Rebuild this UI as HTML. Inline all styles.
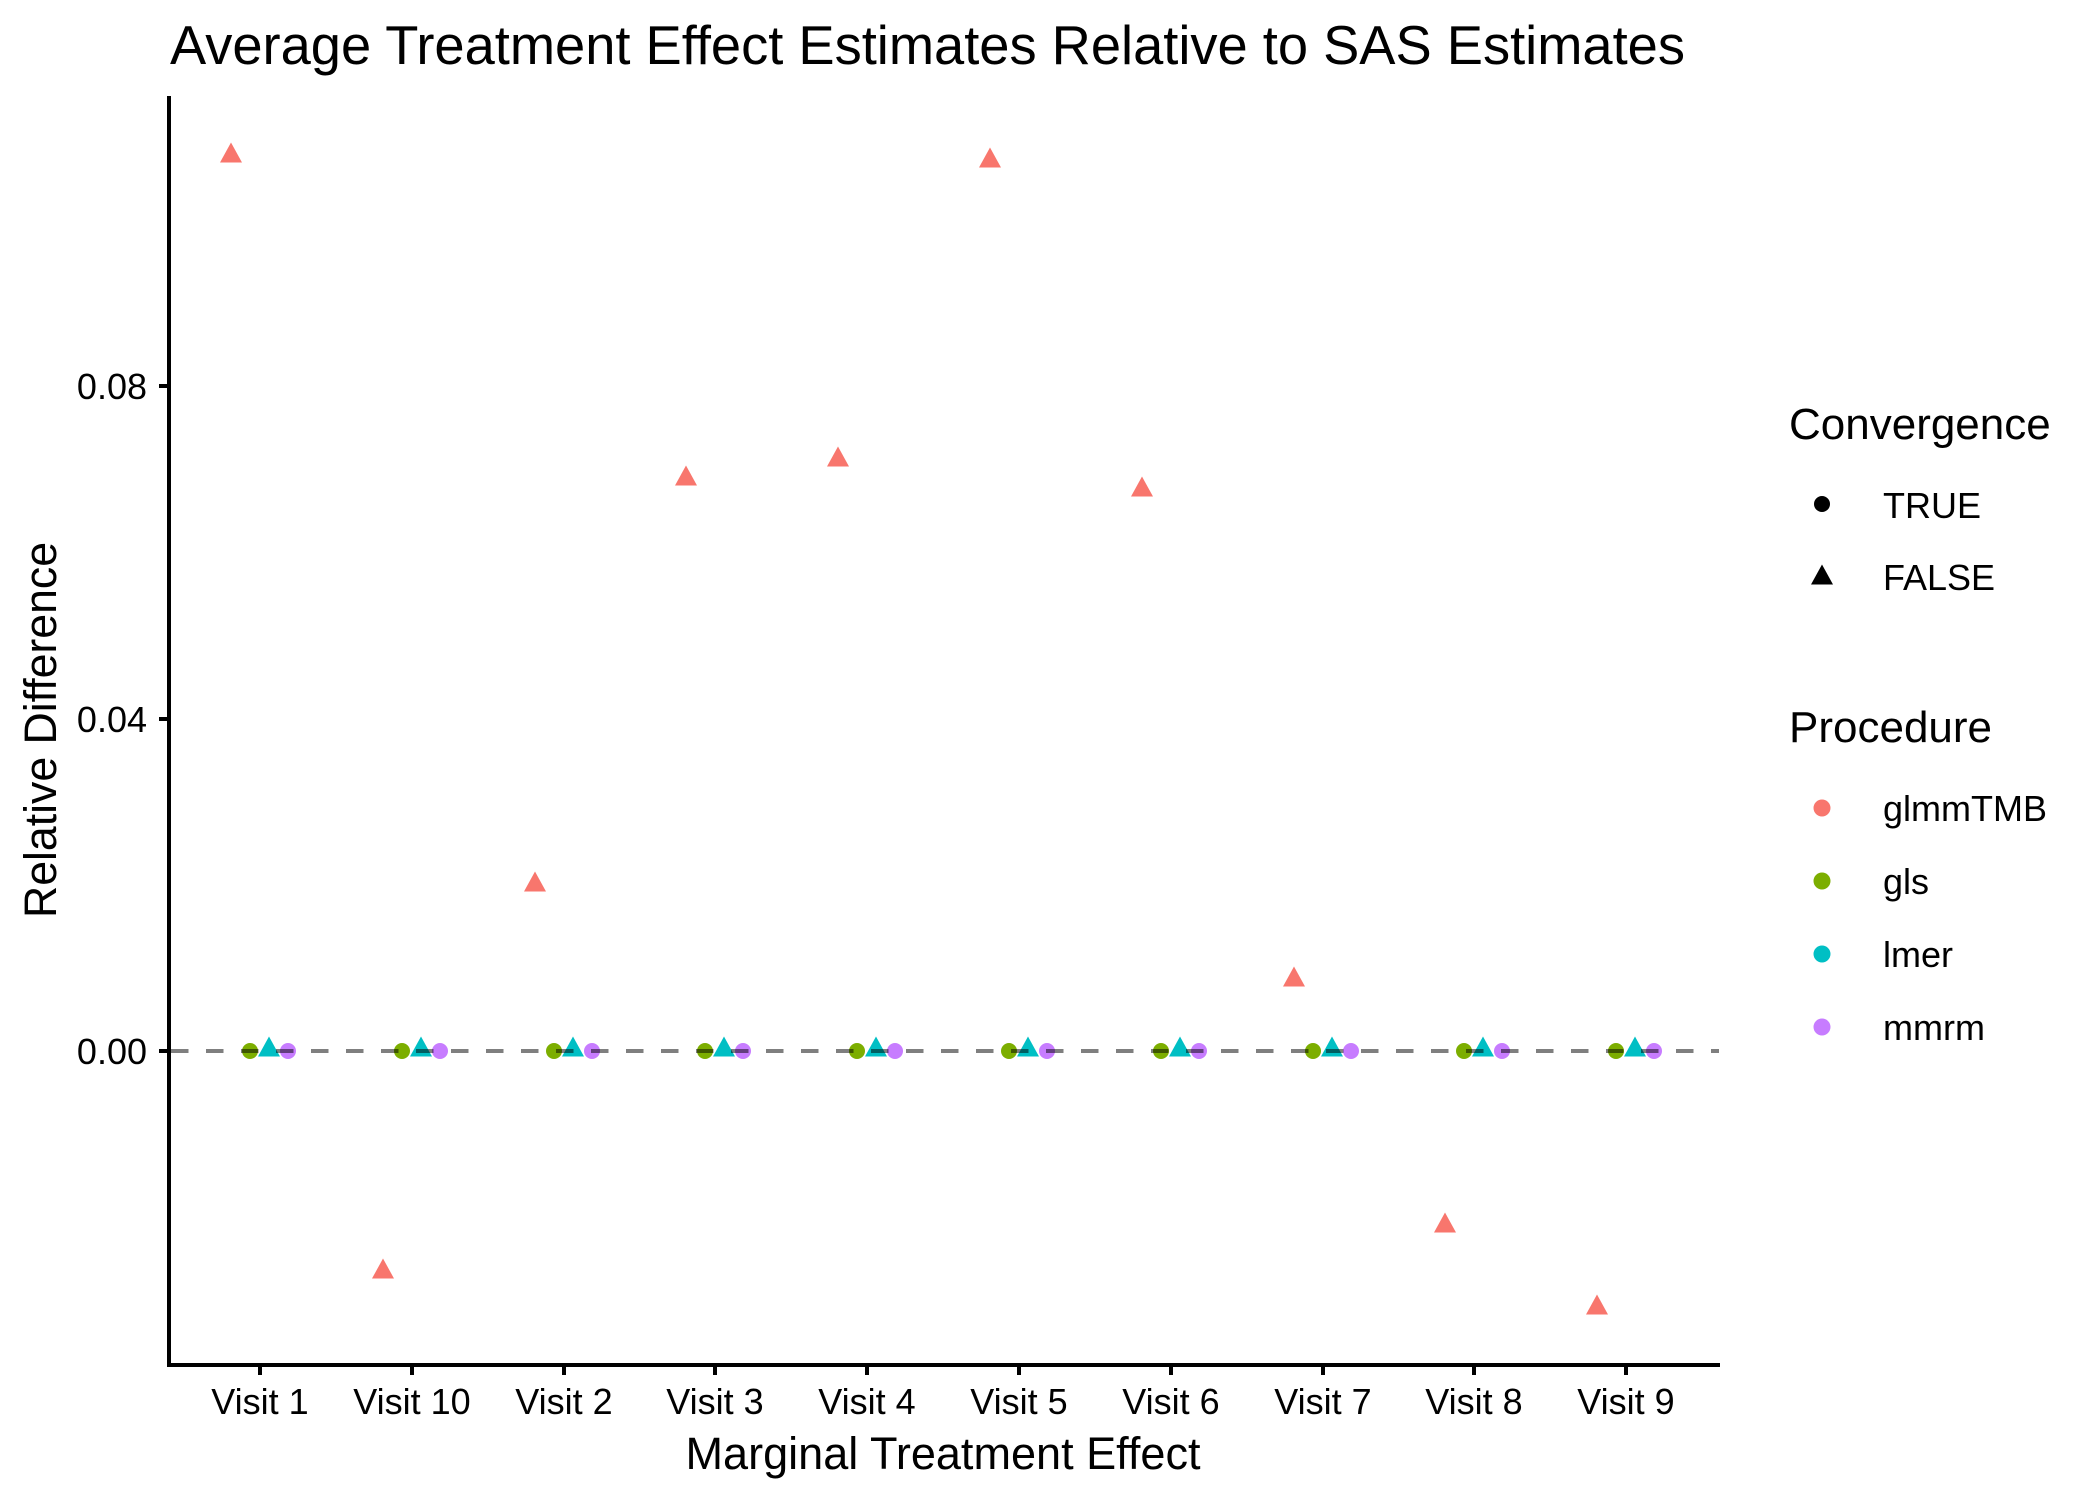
<!DOCTYPE html>
<html><head><meta charset="utf-8"><style>html,body{margin:0;padding:0;background:#fff}svg{display:block}</style></head>
<body>
<svg width="2100" height="1500" viewBox="0 0 2100 1500" xmlns="http://www.w3.org/2000/svg" font-family="Liberation Sans, Arial, sans-serif">
<rect width="2100" height="1500" fill="#fff"/>
<text x="170" y="64" font-size="55" textLength="1515" lengthAdjust="spacingAndGlyphs">Average Treatment Effect Estimates Relative to SAS Estimates</text>
<line x1="169" y1="96" x2="169" y2="1367" stroke="#000" stroke-width="4"/>
<line x1="167" y1="1365" x2="1720" y2="1365" stroke="#000" stroke-width="4"/>
<g stroke="#000" stroke-width="4">
<line x1="159" y1="386" x2="169" y2="386"/><line x1="159" y1="719" x2="169" y2="719"/><line x1="159" y1="1051" x2="169" y2="1051"/>
<line x1="260" y1="1365" x2="260" y2="1375"/><line x1="412" y1="1365" x2="412" y2="1375"/><line x1="564" y1="1365" x2="564" y2="1375"/><line x1="715" y1="1365" x2="715" y2="1375"/><line x1="867" y1="1365" x2="867" y2="1375"/><line x1="1019" y1="1365" x2="1019" y2="1375"/><line x1="1171" y1="1365" x2="1171" y2="1375"/><line x1="1323" y1="1365" x2="1323" y2="1375"/><line x1="1474" y1="1365" x2="1474" y2="1375"/><line x1="1626" y1="1365" x2="1626" y2="1375"/>
</g>
<g font-size="36" text-anchor="end" fill="#000">
<text x="147" y="399">0.08</text><text x="147" y="732">0.04</text><text x="147" y="1064">0.00</text>
</g>
<g font-size="36" text-anchor="middle" fill="#000">
<text x="260" y="1414">Visit 1</text><text x="412" y="1414">Visit 10</text><text x="564" y="1414">Visit 2</text><text x="715" y="1414">Visit 3</text><text x="867" y="1414">Visit 4</text><text x="1019" y="1414">Visit 5</text><text x="1171" y="1414">Visit 6</text><text x="1323" y="1414">Visit 7</text><text x="1474" y="1414">Visit 8</text><text x="1626" y="1414">Visit 9</text>
</g>
<text x="943" y="1469" font-size="45" text-anchor="middle" textLength="515" lengthAdjust="spacingAndGlyphs">Marginal Treatment Effect</text>
<text transform="translate(56,730) rotate(-90)" font-size="45" text-anchor="middle" textLength="376" lengthAdjust="spacingAndGlyphs">Relative Difference</text>
<defs>
<path id="tri" d="M0,-12.5 L11,7.5 L-11,7.5 Z"/>
</defs>
<g fill="#7CAE00"><circle cx="250" cy="1051" r="8"/><circle cx="402" cy="1051" r="8"/><circle cx="554" cy="1051" r="8"/><circle cx="705" cy="1051" r="8"/><circle cx="857" cy="1051" r="8"/><circle cx="1009" cy="1051" r="8"/><circle cx="1161" cy="1051" r="8"/><circle cx="1313" cy="1051" r="8"/><circle cx="1464" cy="1051" r="8"/><circle cx="1616" cy="1051" r="8"/></g>
<g fill="#00BFC4"><use href="#tri" x="269" y="1049"/><use href="#tri" x="421" y="1049"/><use href="#tri" x="573" y="1049"/><use href="#tri" x="724" y="1049"/><use href="#tri" x="876" y="1049"/><use href="#tri" x="1028" y="1049"/><use href="#tri" x="1180" y="1049"/><use href="#tri" x="1332" y="1049"/><use href="#tri" x="1483" y="1049"/><use href="#tri" x="1635" y="1049"/></g>
<g fill="#C77CFF"><circle cx="288" cy="1051" r="8"/><circle cx="440" cy="1051" r="8"/><circle cx="592" cy="1051" r="8"/><circle cx="743" cy="1051" r="8"/><circle cx="895" cy="1051" r="8"/><circle cx="1047" cy="1051" r="8"/><circle cx="1199" cy="1051" r="8"/><circle cx="1351" cy="1051" r="8"/><circle cx="1502" cy="1051" r="8"/><circle cx="1654" cy="1051" r="8"/></g>
<g fill="#F8766D"><use href="#tri" x="231" y="155"/><use href="#tri" x="383" y="1271"/><use href="#tri" x="535" y="884"/><use href="#tri" x="686" y="478"/><use href="#tri" x="838" y="459"/><use href="#tri" x="990" y="160"/><use href="#tri" x="1142" y="489"/><use href="#tri" x="1294" y="979"/><use href="#tri" x="1445" y="1225"/><use href="#tri" x="1597" y="1307"/></g>
<line x1="171" y1="1051" x2="1719" y2="1051" stroke="#000" stroke-opacity="0.5" stroke-width="4" stroke-dasharray="17.5 17.5"/>
<text x="1789" y="439" font-size="44">Convergence</text>
<circle cx="1822" cy="504" r="8" fill="#000"/>
<text x="1883" y="518" font-size="36">TRUE</text>
<use href="#tri" x="1822" y="577" fill="#000"/>
<text x="1883" y="590" font-size="36">FALSE</text>
<text x="1789" y="742" font-size="44">Procedure</text>
<circle cx="1822" cy="808" r="8.5" fill="#F8766D"/><text x="1883" y="821" font-size="36">glmmTMB</text>
<circle cx="1822" cy="881" r="8.5" fill="#7CAE00"/><text x="1883" y="894" font-size="36">gls</text>
<circle cx="1822" cy="954" r="8.5" fill="#00BFC4"/><text x="1883" y="967" font-size="36">lmer</text>
<circle cx="1822" cy="1027" r="8.5" fill="#C77CFF"/><text x="1883" y="1040" font-size="36">mmrm</text>
</svg>
</body></html>
